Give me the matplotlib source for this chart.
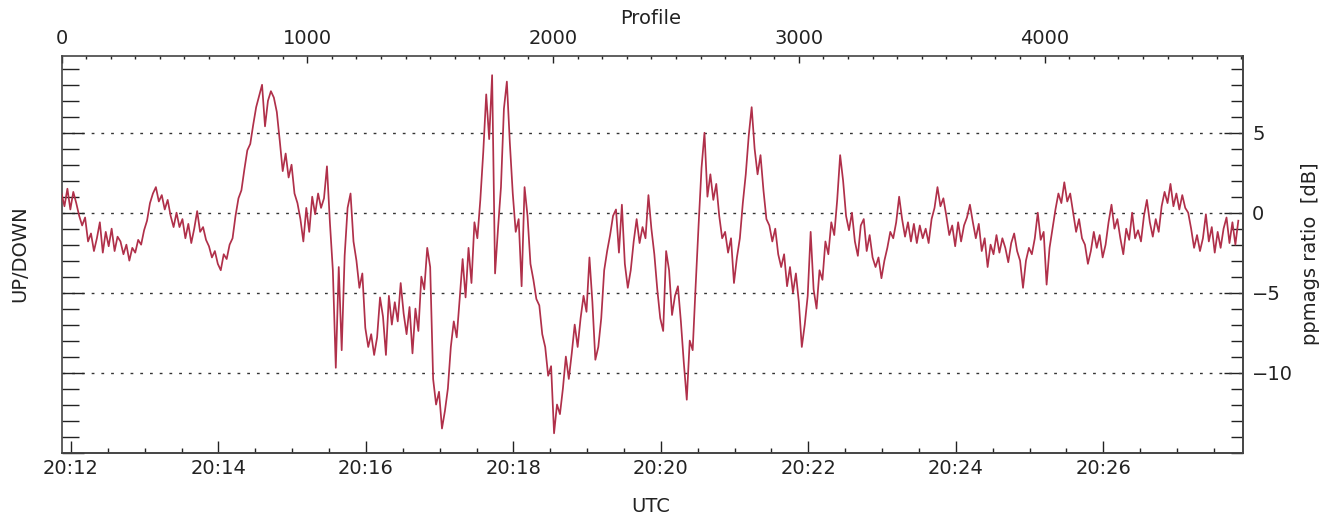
import numpy as np
import matplotlib
matplotlib.use("Agg")
import matplotlib.pyplot as plt
from matplotlib.ticker import MultipleLocator, FixedLocator, FuncFormatter, NullFormatter

# Profile sampling and time base
profile_step = 12
profile_max = 4805
t0_seconds = 20 * 3600 + 11 * 60 + 52.3   # UTC time of profile 0
profiles_per_second = 5.0

# UP/DOWN ppmags ratio in dB, one value every `profile_step` profiles
ratio_db = [
    1.2, 0.4, 1.5, 0.2, 1.3, 0.6, -0.2, -0.8, -0.3, -1.8,
    -1.3, -2.4, -1.6, -0.6, -2.5, -1.2, -2.1, -1.0, -2.4, -1.5,
    -1.8, -2.6, -2.0, -3.0, -2.2, -2.5, -1.7, -2.0, -1.1, -0.5,
    0.6, 1.2, 1.6, 0.7, 1.1, 0.2, 0.8, -0.2, -0.9, 0.0,
    -0.9, -0.4, -1.6, -0.7, -1.9, -1.0, 0.1, -1.2, -0.9, -1.7,
    -2.1, -2.8, -2.4, -3.2, -3.6, -2.6, -2.9, -2.0, -1.6, -0.2,
    0.9, 1.4, 2.7, 3.9, 4.3, 5.5, 6.6, 7.3, 8.0, 5.4,
    7.0, 7.6, 7.2, 6.3, 4.5, 2.6, 3.7, 2.2, 3.0, 1.2,
    0.6, -0.4, -1.8, 0.3, -1.2, 1.0, -0.1, 1.2, 0.3, 0.9,
    2.9, -0.6, -3.6, -9.7, -3.4, -8.6, -2.7, 0.3, 1.2, -1.8,
    -3.0, -4.7, -3.8, -7.2, -8.4, -7.6, -8.9, -7.8, -5.3, -6.5,
    -8.9, -5.2, -7.0, -5.6, -6.8, -4.4, -6.3, -7.6, -5.9, -8.8,
    -6.0, -7.4, -4.0, -4.8, -2.2, -3.4, -10.4, -12.0, -11.2, -13.5,
    -12.4, -11.0, -8.4, -6.8, -7.8, -5.4, -2.9, -5.3, -2.2, -4.4,
    -0.6, -1.6, 0.8, 3.8, 7.4, 4.6, 8.6, -3.8, -1.0, 1.6,
    6.5, 8.2, 4.4, 1.2, -1.2, -0.4, -4.6, 1.6, -0.2, -3.2,
    -4.2, -5.4, -5.8, -7.6, -8.4, -10.2, -9.6, -13.8, -12.0, -12.6,
    -11.0, -9.0, -10.4, -8.8, -7.0, -8.4, -6.6, -5.2, -6.2, -2.8,
    -5.6, -9.2, -8.4, -6.6, -3.6, -2.4, -1.4, -0.2, 0.2, -2.5,
    0.5, -3.2, -4.7, -3.6, -1.8, -0.4, -1.9, -0.9, -1.6, 1.1,
    -1.0, -2.6, -4.8, -6.6, -7.4, -2.4, -3.6, -6.4, -5.2, -4.6,
    -6.8, -9.4, -11.7, -8.0, -8.6, -4.6, -0.8, 2.8, 5.0, 1.0,
    2.4, 0.8, 1.8, -0.2, -1.6, -1.2, -2.5, -1.6, -4.4, -2.8,
    -1.6, 0.6, 2.4, 4.8, 6.6, 4.0, 2.4, 3.6, 1.4, -0.4,
    -0.8, -1.8, -1.0, -2.6, -3.4, -2.6, -4.6, -3.4, -5.0, -3.8,
    -5.6, -8.4, -7.0, -5.2, -1.2, -4.8, -6.0, -3.6, -4.2, -1.8,
    -2.6, -0.6, -1.4, 0.8, 3.6, 2.0, -0.2, -1.1, 0.0, -1.8,
    -2.7, -0.8, -0.4, -2.4, -1.4, -2.8, -3.4, -2.8, -4.1, -3.0,
    -2.2, -1.2, -1.6, -0.6, 1.0, -0.4, -1.5, -0.6, -1.8, -0.7,
    -1.9, -0.8, -1.6, -1.0, -1.9, -0.4, 0.3, 1.6, 0.4, 0.9,
    -0.2, -1.4, -0.8, -2.1, -0.6, -1.8, -0.8, -0.3, 0.5, -0.6,
    -1.6, -0.7, -2.4, -1.6, -3.4, -2.0, -2.6, -1.4, -2.5, -1.6,
    -2.2, -3.1, -1.9, -1.3, -2.4, -3.0, -4.7, -3.0, -2.2, -2.6,
    -1.6, 0.0, -1.7, -1.2, -4.5, -2.2, -1.0, 0.2, 1.2, 0.6,
    1.9, 0.7, 1.2, 0.0, -1.2, -0.4, -1.6, -2.0, -3.2, -2.4,
    -1.2, -2.2, -1.4, -2.8, -2.0, -0.6, 0.5, -1.0, -0.4, -1.6,
    -2.6, -1.0, -1.7, 0.0, -1.6, -1.1, -1.8, -0.2, 0.8, -0.6,
    -1.5, -0.4, -1.2, 0.4, 1.3, 0.6, 1.8, 0.4, 1.2, 0.2,
    1.1, 0.3, 0.0, -1.0, -2.2, -1.4, -2.4, -1.6, -0.1, -1.8,
    -0.9, -2.5, -1.2, -2.2, -1.0, -0.3, -1.9, -0.6, -2.0, -0.5,
]
profiles = np.arange(len(ratio_db)) * profile_step

# Axis annotations
time_tick_minutes = [12, 14, 16, 18, 20, 22, 24, 26]
profile_ticks = [0, 1000, 2000, 3000, 4000]
db_ticks = [5, 0, -5, -10]
db_limits = (-15.0, 9.8)

line_color = "#b0304a"
ink = "#222222"
font = "DejaVu Sans"
fs = 14

W, H = 1324, 518
plt.rcParams["font.family"] = [font]
fig = plt.figure(figsize=(W / 100, H / 100), dpi=100)
ax = fig.add_axes([61.5 / W, 1 - 452.5 / H, (1242.5 - 61.5) / W, (452.5 - 56) / H])

# reference levels
for lev in db_ticks:
    ax.axhline(lev, color="#333333", lw=1.0, ls=(0, (2, 5)), zorder=1)

ax.plot(profiles, ratio_db, color=line_color, lw=1.25, zorder=3)
ax.set_xlim(0, profile_max)
ax.set_ylim(*db_limits)

for s in ax.spines.values():
    s.set_color("#444444")
    s.set_linewidth(1.2)

# top axis: profile number
ax.xaxis.tick_top()
ax.xaxis.set_major_locator(FixedLocator(profile_ticks))
ax.xaxis.set_minor_locator(MultipleLocator(100))
ax.tick_params(axis="x", which="major", direction="in", length=5, width=1.0,
               pad=6, labelsize=fs, colors=ink)
ax.tick_params(axis="x", which="minor", direction="in", length=2.5, width=1.0, colors=ink)

# left axis: unlabelled dB ticks
ax.yaxis.set_major_locator(MultipleLocator(5))
ax.yaxis.set_minor_locator(MultipleLocator(1))
ax.yaxis.set_major_formatter(NullFormatter())
ax.tick_params(axis="y", which="major", direction="in", length=16, width=1.0, colors=ink)
ax.tick_params(axis="y", which="minor", direction="in", length=12, width=1.0, colors=ink)


# bottom axis: UTC time
def prof_to_min(p):
    return (t0_seconds + np.asarray(p) / profiles_per_second) / 60.0 - 20 * 60


def min_to_prof(m):
    return ((np.asarray(m) + 20 * 60) * 60.0 - t0_seconds) * profiles_per_second


bx = ax.secondary_xaxis("bottom", functions=(prof_to_min, min_to_prof))
bx.xaxis.set_major_locator(FixedLocator(time_tick_minutes))
bx.xaxis.set_minor_locator(MultipleLocator(0.5))
bx.xaxis.set_major_formatter(FuncFormatter(lambda m, _: f"20:{int(round(m)):02d}"))
bx.tick_params(axis="x", which="major", direction="in", length=8.6, width=1.0,
               pad=5, labelsize=fs, colors=ink)
bx.tick_params(axis="x", which="minor", direction="in", length=3.6, width=1.0, colors=ink)
bx.spines["bottom"].set_color("#444444")
bx.spines["bottom"].set_linewidth(1.2)

# right axis: labelled dB ticks
ry = ax.secondary_yaxis("right")
ry.yaxis.set_major_locator(FixedLocator(db_ticks))
ry.yaxis.set_minor_locator(MultipleLocator(1))
ry.tick_params(axis="y", which="major", direction="in", length=14, width=1.0,
               pad=7, labelsize=fs, colors=ink)
ry.tick_params(axis="y", which="minor", direction="in", length=8.6, width=1.0, colors=ink)
ry.spines["right"].set_color("#444444")
ry.spines["right"].set_linewidth(1.2)

# axis titles placed in figure pixels
def fig_text(x, y, s, **kw):
    fig.text(x / W, 1 - y / H, s, fontsize=fs, color=ink, ha="center", va="center", **kw)


fig_text(651, 19, "Profile")
fig_text(651, 506, "UTC")
fig_text(20, 254, "UP/DOWN", rotation=90)
fig_text(1311, 254, "ppmags ratio  [dB]", rotation=90)

fig.savefig("out.png", dpi=100, facecolor="white")
